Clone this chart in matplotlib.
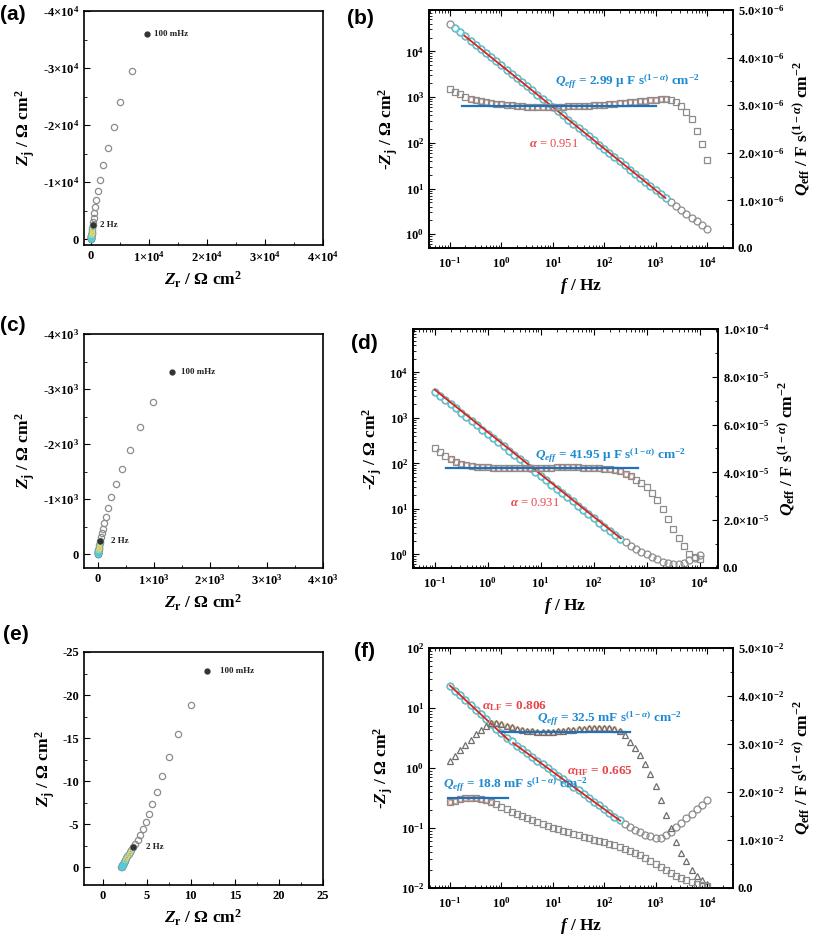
import numpy as np
import matplotlib
matplotlib.use('Agg')
import matplotlib.pyplot as plt
from matplotlib.ticker import FuncFormatter, MultipleLocator, LogLocator, NullFormatter

plt.rcParams['font.family'] = 'Liberation Serif'
plt.rcParams['font.weight'] = 'bold'
plt.rcParams['axes.labelweight'] = 'bold'
plt.rcParams['mathtext.fontset'] = 'custom'
plt.rcParams['mathtext.rm'] = 'Liberation Serif:bold'
plt.rcParams['mathtext.it'] = 'Liberation Serif:italic:bold'
plt.rcParams['mathtext.bf'] = 'Liberation Serif:bold'
plt.rcParams['axes.linewidth'] = 1.2

# frequencies (Hz), 10 points per decade
freq = [0.1, 0.126, 0.158, 0.2, 0.251, 0.316, 0.398, 0.501, 0.631, 0.794,
        1.0, 1.26, 1.58, 2.0, 2.51, 3.16, 3.98, 5.01, 6.31, 7.94,
        10, 12.6, 15.8, 20, 25.1, 31.6, 39.8, 50.1, 63.1, 79.4,
        100, 126, 158, 200, 251, 316, 398, 501, 631, 794,
        1000, 1260, 1580, 2000, 2510, 3160, 3980, 5010, 6310, 7940, 10000]

# ---- Nyquist data (first point = 100 mHz, index 13 = 2 Hz)
zr_a = [9730, 7030, 5030, 3890, 2860, 2110, 1600, 1200, 910, 740, 570, 450, 360, 290,
        240, 200, 165, 135, 112, 92, 76, 63, 52, 43, 36, 30, 25, 21, 18, 15, 13]
zj_a = [-36000, -29400, -24000, -19600, -15900, -12900, -10400, -8400, -6800, -5550, -4500,
        -3700, -3000, -2400, -1950, -1580, -1280, -1040, -840, -680, -550, -445, -360,
        -290, -235, -190, -155, -125, -100, -80, -65]

zr_c = [1313, 977, 752, 570, 428, 322, 244, 186, 150, 120, 92, 75, 60, 45,
        38, 32, 27, 23, 19, 16, 14, 12, 10, 8.5, 7, 6, 5, 4.2, 3.5, 3, 2.5]
zj_c = [-3302, -2770, -2310, -1900, -1556, -1277, -1036, -842, -684, -564, -465, -380,
        -310, -245, -205, -168, -138, -113, -93, -76, -62, -51, -42, -34, -28, -23,
        -19, -15, -12, -10, -8]

zr_e = [11.9, 10.0, 8.59, 7.5, 6.74, 6.14, 5.60, 5.23, 4.89, 4.58, 4.25, 3.98, 3.72, 3.48,
        3.28, 3.10, 2.95, 2.82, 2.70, 2.60, 2.51, 2.44, 2.38, 2.33, 2.29, 2.25, 2.22,
        2.20, 2.18, 2.16, 2.15]
zj_e = [-22.8, -18.8, -15.5, -12.8, -10.6, -8.75, -7.33, -6.17, -5.21, -4.40, -3.75, -3.2,
        -2.75, -2.38, -2.05, -1.76, -1.5, -1.28, -1.08, -0.9, -0.75, -0.62, -0.5, -0.4,
        -0.32, -0.25, -0.19, -0.14, -0.1, -0.07, -0.05]

# ---- Bode-type data
zj_b = [39800, 32300, 26200, 21200, 17200, 14000, 11300, 9180, 7450, 6040,
        4900, 3970, 3220, 2610, 2120, 1720, 1390, 1130, 916, 743,
        603, 489, 396, 321, 261, 211, 171, 139, 113, 91.4,
        74.1, 60.1, 48.8, 39.5, 32.1, 26.0, 21.1, 17.1, 13.9, 11.2,
        9.12, 7.41, 6.1, 5.0, 4.07, 3.31, 2.75, 2.29, 1.91, 1.58, 1.32]
qeff_b = [3.33, 3.28, 3.23, 3.18, 3.14, 3.11, 3.08, 3.06, 3.04, 3.03,
          3.02, 3.01, 3.00, 2.99, 2.98, 2.97, 2.97, 2.97, 2.97, 2.97,
          2.97, 2.97, 2.97, 2.98, 2.98, 2.98, 2.99, 2.99, 3.00, 3.00,
          3.01, 3.02, 3.03, 3.04, 3.05, 3.06, 3.07, 3.08, 3.09, 3.10,
          3.11, 3.12, 3.12, 3.11, 3.07, 2.98, 2.86, 2.71, 2.46, 2.18, 1.84]  # x1e-6
fit_f_b = [0.19, 1550]
fit_z_b = [22000, 6.2]
qline_f_b = [0.17, 1000]
qline_b = 2.99e-6

zj_d = [3800, 3070, 2480, 2000, 1610, 1300, 1050, 849, 685, 553,
        447, 361, 291, 235, 190, 153, 124, 99.8, 80.5, 65.0,
        52.5, 42.4, 34.2, 27.6, 22.3, 18.0, 14.5, 11.7, 9.46, 7.64,
        6.17, 4.98, 4.02, 3.24, 2.62, 2.14, 1.86, 1.55, 1.32, 1.15,
        1.0, 0.87, 0.78, 0.69, 0.63, 0.60, 0.60, 0.65, 0.74, 0.85, 0.95]
qeff_d = [5.04, 4.86, 4.69, 4.55, 4.44, 4.37, 4.31, 4.27, 4.24, 4.22,
          4.21, 4.20, 4.19, 4.19, 4.18, 4.18, 4.18, 4.18, 4.18, 4.19,
          4.19, 4.20, 4.20, 4.21, 4.21, 4.21, 4.21, 4.21, 4.20, 4.20,
          4.19, 4.18, 4.16, 4.13, 4.09, 4.04, 3.95, 3.84, 3.70, 3.55,
          3.38, 3.15, 2.85, 2.45, 2.05, 1.62, 1.25, 0.92, 0.60, 0.45, 0.38]  # x1e-5
fit_f_d = [0.1, 324]
fit_z_d = [4170, 2.24]
qline_f_d = [0.166, 690]
qline_d = 4.195e-5

zj_f = [23.4, 19.5, 16.3, 13.5, 11.3, 9.38, 7.81, 6.50, 5.42, 4.51,
        3.76, 3.13, 2.80, 2.36, 2.04, 1.77, 1.53, 1.33, 1.15, 0.998,
        0.865, 0.748, 0.649, 0.562, 0.488, 0.423, 0.366, 0.317, 0.275, 0.238,
        0.206, 0.179, 0.155, 0.134, 0.117, 0.105, 0.0933, 0.0851, 0.0776, 0.0724,
        0.0692, 0.0692, 0.0759, 0.0871, 0.102, 0.123, 0.148, 0.174, 0.209, 0.245, 0.288]
tri_f = [2.64, 2.76, 2.87, 2.98, 3.09, 3.20, 3.30, 3.37, 3.43, 3.44,
         3.42, 3.38, 3.35, 3.32, 3.30, 3.28, 3.27, 3.26, 3.26, 3.26,
         3.26, 3.27, 3.28, 3.29, 3.30, 3.31, 3.32, 3.33, 3.34, 3.34,
         3.34, 3.33, 3.31, 3.27, 3.18, 3.05, 2.92, 2.78, 2.59, 2.37,
         2.13, 1.83, 1.53, 1.24, 0.96, 0.72, 0.56, 0.38, 0.26, 0.16, 0.08]  # x1e-2
sq_f = [1.80, 1.82, 1.85, 1.87, 1.88, 1.88, 1.86, 1.83, 1.79, 1.74,
        1.69, 1.64, 1.59, 1.54, 1.49, 1.45, 1.41, 1.37, 1.33, 1.29,
        1.25, 1.22, 1.19, 1.16, 1.13, 1.10, 1.07, 1.04, 1.01, 0.98,
        0.95, 0.92, 0.89, 0.86, 0.82, 0.78, 0.73, 0.68, 0.62, 0.56,
        0.50, 0.44, 0.38, 0.32, 0.26, 0.21, 0.16, 0.12, 0.09, 0.07, 0.05]  # x1e-2
fit_lf_f = [0.1, 1.36]
fit_lf_z = [23.6, 2.95]
fit_hf_f = [1.69, 205]
fit_hf_z = [2.61, 0.132]
qline_hi_f = [1.0, 316]
qline_hi = 3.25e-2
qline_lo_f = [0.093, 1.36]
qline_lo = 1.88e-2

GRAY = '#8c8c8c'
CYAN = '#4fd0de'
PINK = '#ee7f86'
YELLOW = '#efd46a'
RED = '#e3211c'
BLUE = '#1f72b8'
TBLUE = '#1b8ad0'
TRED = '#e8454a'

W, H = 813, 935
LABEL_SIZE = 12.5


def box(l, t, r, b):
    # pixel box -> figure fraction
    return [l / W, 1 - b / H, (r - l) / W, (b - t) / H]


def sci_label(v, exp):
    if abs(v) < 10 ** exp * 1e-6:
        return '0'
    m = int(round(v / 10 ** exp))
    return '{}×10$^{{{}}}$'.format(m, exp)


def right_label(v, pos):
    if v < 1e-12:
        return '0.0' if v > -1e-12 else ''
    e = int(np.floor(np.log10(v) + 1e-9))
    return '{:.1f}×10$^{{{}}}$'.format(v / 10 ** e, e)


def log_label(v, pos):
    return '10$^{{{}}}$'.format(int(round(np.log10(v))))


def nyquist(ax, zr, zj, xlim, ylim, step, exp, off100, off2):
    ax.plot(zr[1:], zj[1:], 'o', mfc='none', mec=GRAY, ms=4.5, mew=0.9)
    ax.plot(zr[13:], zj[13:], 'o', mfc='none', mec=CYAN, ms=3.5, mew=0.8, alpha=0.8)
    ax.plot(zr[14:20], zj[14:20], 'o', mfc='none', mec=YELLOW, ms=3, mew=0.7, alpha=0.8)
    ax.plot([zr[0], zr[13]], [zj[0], zj[13]], 'o', color='#333333', ms=3.5)
    ax.annotate('100 mHz', (zr[0], zj[0]), xytext=(off100, 0), textcoords='offset points',
                va='center', fontsize=6.5, color='#222222')
    ax.annotate('2 Hz', (zr[13], zj[13]), xytext=(off2, 0), textcoords='offset points',
                va='center', fontsize=6.5, color='#222222')
    ax.set_xlim(*xlim)
    ax.set_ylim(*ylim)
    ax.xaxis.set_major_locator(MultipleLocator(step))
    ax.yaxis.set_major_locator(MultipleLocator(step))
    ax.xaxis.set_minor_locator(MultipleLocator(step / 2))
    ax.yaxis.set_minor_locator(MultipleLocator(step / 2))
    if exp is None:
        fmt = FuncFormatter(lambda v, p: '{:d}'.format(int(round(v))))
    else:
        fmt = FuncFormatter(lambda v, p: sci_label(v, exp))
    ax.xaxis.set_major_formatter(fmt)
    ax.yaxis.set_major_formatter(fmt)
    ax.tick_params(which='both', direction='in', labelsize=9)
    ax.tick_params(which='major', length=4)
    ax.tick_params(which='minor', length=2)
    ax.set_xlabel(r'$Z_{\mathrm{r}}$ / Ω cm$^{\mathrm{2}}$', fontsize=LABEL_SIZE)
    ax.set_ylabel(r'$Z_{\mathrm{j}}$ / Ω cm$^{\mathrm{2}}$', fontsize=LABEL_SIZE)


def bode_axes(ax, xlim, ylim, qmax, qstep):
    ax.set_xscale('log')
    ax.set_yscale('log')
    ax.set_xlim(*xlim)
    ax.set_ylim(*ylim)
    ax.xaxis.set_major_locator(LogLocator(base=10, numticks=12))
    ax.xaxis.set_minor_locator(LogLocator(base=10, subs=np.arange(2, 10), numticks=12))
    ax.yaxis.set_major_locator(LogLocator(base=10, numticks=12))
    ax.yaxis.set_minor_locator(LogLocator(base=10, subs=np.arange(2, 10), numticks=12))
    ax.xaxis.set_major_formatter(FuncFormatter(log_label))
    ax.yaxis.set_major_formatter(FuncFormatter(log_label))
    ax.xaxis.set_minor_formatter(NullFormatter())
    ax.yaxis.set_minor_formatter(NullFormatter())
    ax.tick_params(which='both', direction='in', top=True, right=False, labelsize=9)
    ax.tick_params(axis='x', pad=6)
    ax.tick_params(which='major', length=4)
    ax.tick_params(which='minor', length=2)
    ax.set_xlabel(r'$f$ / Hz', fontsize=LABEL_SIZE)
    ax.set_ylabel(r'-$Z_{\mathrm{j}}$ / Ω cm$^{\mathrm{2}}$', fontsize=LABEL_SIZE)
    ax2 = ax.twinx()
    ax2.set_ylim(0, qmax)
    ax2.yaxis.set_major_locator(MultipleLocator(qstep))
    ax2.yaxis.set_minor_locator(MultipleLocator(qstep / 2))
    ax2.yaxis.set_major_formatter(FuncFormatter(right_label))
    ax2.tick_params(which='both', direction='in', labelsize=9)
    ax2.tick_params(which='major', length=4)
    ax2.tick_params(which='minor', length=2)
    ax2.set_ylabel(r'$Q_{\mathrm{eff}}$ / F s$^{(1-\alpha)}$ cm$^{-2}$', fontsize=LABEL_SIZE,
                   labelpad=5)
    return ax2


def overlay(ax, f, q, marker_ms=4.2):
    # yellow / pink fitted points sitting on the Q_eff series
    ax.plot(f, q, 'o', mfc='none', mec=YELLOW, ms=marker_ms, mew=0.8, alpha=0.8)
    ax.plot(f, q, 'o', mfc='none', mec=PINK, ms=marker_ms - 0.8, mew=0.8, alpha=0.7)


def main():
    fig = plt.figure(figsize=(W / 100, H / 100), dpi=100)

    # left column: Nyquist
    ax_a = fig.add_axes(box(84, 11, 323, 245))
    nyquist(ax_a, zr_a, zj_a, (-1200, 40000), (1050, -40000), 10000, 4, 5, 5)
    ax_c = fig.add_axes(box(84, 334, 323, 568))
    nyquist(ax_c, zr_c, zj_c, (-240, 4000), (250, -4000), 1000, 3, 7, 8)
    ax_e = fig.add_axes(box(84, 652, 323, 885))
    nyquist(ax_e, zr_e, zj_e, (-2.1, 25), (2.05, -25), 5, None, 9, 9)

    # (b)
    ax_b = fig.add_axes(box(429, 10, 733, 248))
    ax_b2 = bode_axes(ax_b, (0.039, 3.2e4), (0.5, 8e4), 5e-6, 1e-6)
    qb = [v * 1e-6 for v in qeff_b]
    ax_b.plot(freq, zj_b, 'o', mfc='none', mec=GRAY, ms=5, mew=0.9)
    ax_b.plot(freq[1:43], zj_b[1:43], 'o', mfc='none', mec=CYAN, ms=4.4, mew=0.9)
    ax_b.plot(fit_f_b, fit_z_b, '-', color=RED, lw=1.3, zorder=5)
    overlay(ax_b2, freq[4:43], qb[4:43])
    ax_b2.plot(freq, qb, 's', mfc='none', mec=GRAY, ms=4.6, mew=0.9)
    ax_b2.plot(qline_f_b, [qline_b, qline_b], '-', color=BLUE, lw=1.6)
    ax_b.text(0.414, 0.699, r'$Q_{eff}$ = 2.99 μ F s$^{(1-\alpha)}$ cm$^{-2}$',
              transform=ax_b.transAxes, color=TBLUE, fontsize=9.5, va='center', zorder=6)
    ax_b.text(0.33, 0.437, r'$\alpha$ = 0.951', transform=ax_b.transAxes,
              color=TRED, fontsize=9, va='center', fontweight='normal', zorder=6)

    # (d)
    ax_d = fig.add_axes(box(413, 329, 718, 568))
    ax_d2 = bode_axes(ax_d, (0.039, 2.2e4), (0.5, 9e4), 1e-4, 2e-5)
    qd = [v * 1e-5 for v in qeff_d]
    ax_d.plot(freq, zj_d, 'o', mfc='none', mec=GRAY, ms=5, mew=0.9)
    ax_d.plot(freq[0:36], zj_d[0:36], 'o', mfc='none', mec=CYAN, ms=4.4, mew=0.9)
    ax_d.plot(fit_f_d, fit_z_d, '-', color=RED, lw=1.3, zorder=5)
    overlay(ax_d2, freq[3:38], qd[3:38])
    ax_d2.plot(freq, qd, 's', mfc='none', mec=GRAY, ms=4.6, mew=0.9)
    ax_d2.plot(qline_f_d, [qline_d, qline_d], '-', color=BLUE, lw=1.6)
    ax_d.text(0.40, 0.47, r'$Q_{eff}$ = 41.95 μ F s$^{(1-\alpha)}$ cm$^{-2}$',
              transform=ax_d.transAxes, color=TBLUE, fontsize=9.5, va='center', zorder=6)
    ax_d.text(0.318, 0.271, r'$\alpha$ = 0.931', transform=ax_d.transAxes,
              color=TRED, fontsize=9, va='center', fontweight='normal', zorder=6)

    # (f)
    ax_f = fig.add_axes(box(429, 648, 733, 888))
    ax_f2 = bode_axes(ax_f, (0.039, 3.2e4), (0.01, 100), 5e-2, 1e-2)
    tf = [v * 1e-2 for v in tri_f]
    sf = [v * 1e-2 for v in sq_f]
    ax_f.plot(freq, zj_f, 'o', mfc='none', mec=GRAY, ms=5, mew=0.9)
    ax_f.plot(freq[0:34], zj_f[0:34], 'o', mfc='none', mec=CYAN, ms=4.4, mew=0.9)
    ax_f.plot(fit_lf_f, fit_lf_z, '-', color=RED, lw=1.3, zorder=5)
    ax_f.plot(fit_hf_f, fit_hf_z, '-', color=RED, lw=1.3, zorder=5)
    overlay(ax_f2, freq[8:34], tf[8:34], 3.8)
    overlay(ax_f2, freq[0:9], sf[0:9], 3.8)
    ax_f2.plot(freq, tf, '^', mfc='none', mec='#6e6e6e', ms=5, mew=0.9)
    ax_f2.plot(freq, sf, 's', mfc='none', mec=GRAY, ms=4.6, mew=0.9)
    ax_f2.plot(qline_hi_f, [qline_hi, qline_hi], '-', color=BLUE, lw=1.6)
    ax_f2.plot(qline_lo_f, [qline_lo, qline_lo], '-', color=BLUE, lw=1.6)
    ax_f.text(0.173, 0.758, r'$\alpha_{\mathrm{LF}}$ = 0.806', transform=ax_f.transAxes,
              color=TRED, fontsize=9.5, va='center', zorder=6)
    ax_f.text(0.354, 0.703, r'$Q_{eff}$ = 32.5 mF s$^{(1-\alpha)}$ cm$^{-2}$',
              transform=ax_f.transAxes, color=TBLUE, fontsize=9.5, va='center', zorder=6)
    ax_f.text(0.453, 0.485, r'$\alpha_{\mathrm{HF}}$ = 0.665', transform=ax_f.transAxes,
              color=TRED, fontsize=9.5, va='center', zorder=6)
    ax_f.text(0.047, 0.429, r'$Q_{eff}$ = 18.8 mF s$^{(1-\alpha)}$ cm$^{-2}$',
              transform=ax_f.transAxes, color=TBLUE, fontsize=9.5, va='center', zorder=6)

    # panel letters
    letters = [('(a)', 0, 5), ('(b)', 347, 9), ('(c)', 0, 316), ('(d)', 351, 334),
               ('(e)', 3, 625), ('(f)', 354, 642)]
    for s, x, y in letters:
        fig.text(x / W, 1 - y / H, s, family='Liberation Sans', fontweight='bold',
                 fontsize=15, va='top', ha='left')

    fig.savefig('out.png', dpi=100)


if __name__ == "__main__":
    main()
